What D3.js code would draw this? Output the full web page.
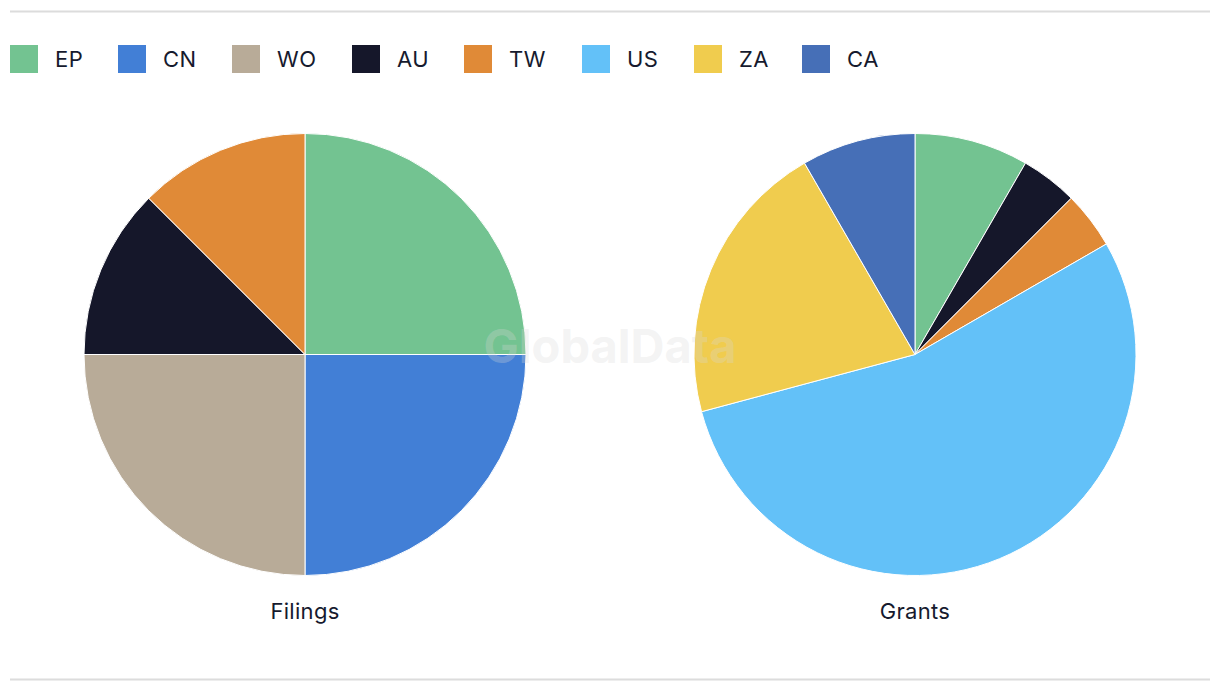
<!DOCTYPE html>
<html>
<head>
<meta charset="utf-8">
<script src="https://cdn.jsdelivr.net/npm/d3@7"></script>
<style>
html, body { margin: 0; padding: 0; background: #fff; }
svg { display: block; font-family: Inter, "Noto Sans", sans-serif; }
</style>
</head>
<body>
<svg id="chart" width="1220" height="690"></svg>
<script>
const categories = ["EP", "CN", "WO", "AU", "TW", "US", "ZA", "CA"];
const colors = ["#73c391", "#427fd6", "#b8ab98", "#15172a", "#e08a37", "#63c1f8", "#f0cc4e", "#466fb7"];
const filingsLabels = ["EP", "CN", "WO", "AU", "TW"];
const filingsValues = [2, 2, 2, 1, 1];
const grantsLabels = ["EP", "AU", "TW", "US", "ZA", "CA"];
const grantsValues = [2, 1, 1, 13, 5, 2];
const pieTitles = ["Filings", "Grants"];

const svg = d3.select("#chart");
const color = d3.scaleOrdinal().domain(categories).range(colors);

// frame lines
svg.append("line").attr("x1", 10).attr("x2", 1210).attr("y1", 11.5).attr("y2", 11.5)
  .attr("stroke", "#dcdcdc").attr("stroke-width", 2);
svg.append("line").attr("x1", 10).attr("x2", 1210).attr("y1", 679.5).attr("y2", 679.5)
  .attr("stroke", "#dcdcdc").attr("stroke-width", 2);

// legend
const legendX = [10, 118, 232, 352, 464, 582, 694, 802];
const lg = svg.append("g");
categories.forEach((c, i) => {
  lg.append("rect").attr("x", legendX[i]).attr("y", 45).attr("width", 28).attr("height", 28)
    .attr("fill", color(c));
  lg.append("text").attr("x", legendX[i] + 45).attr("y", 59).attr("dy", "0.36em")
    .attr("font-size", 22).attr("fill", "#161a2e").attr("letter-spacing", 0.5).text(c);
});

const pie = d3.pie().sort(null).value(d => d.v);
const arc = d3.arc().innerRadius(0).outerRadius(221);

function drawPie(cx, labels, values, title) {
  const data = labels.map((l, i) => ({ k: l, v: values[i] }));
  const g = svg.append("g").attr("transform", `translate(${cx},354.5)`);
  g.selectAll("path").data(pie(data)).join("path")
    .attr("d", arc).attr("fill", d => color(d.data.k))
    .attr("stroke", "#fff").attr("stroke-width", 1);
  svg.append("text").attr("x", cx).attr("y", 611).attr("dy", "0.36em").attr("text-anchor", "middle")
    .attr("font-size", 22).attr("fill", "#161a2e").attr("letter-spacing", 0.3).text(title);
}
drawPie(305, filingsLabels, filingsValues, pieTitles[0]);
drawPie(915, grantsLabels, grantsValues, pieTitles[1]);

// watermark (on top)
svg.append("text").attr("x", 610).attr("y", 346).attr("dy", "0.36em").attr("text-anchor", "middle")
  .attr("font-size", 47).attr("font-weight", 700).attr("fill", "#d8d8d8").attr("fill-opacity", 0.3)
  .text("GlobalData");
</script>
</body>
</html>
